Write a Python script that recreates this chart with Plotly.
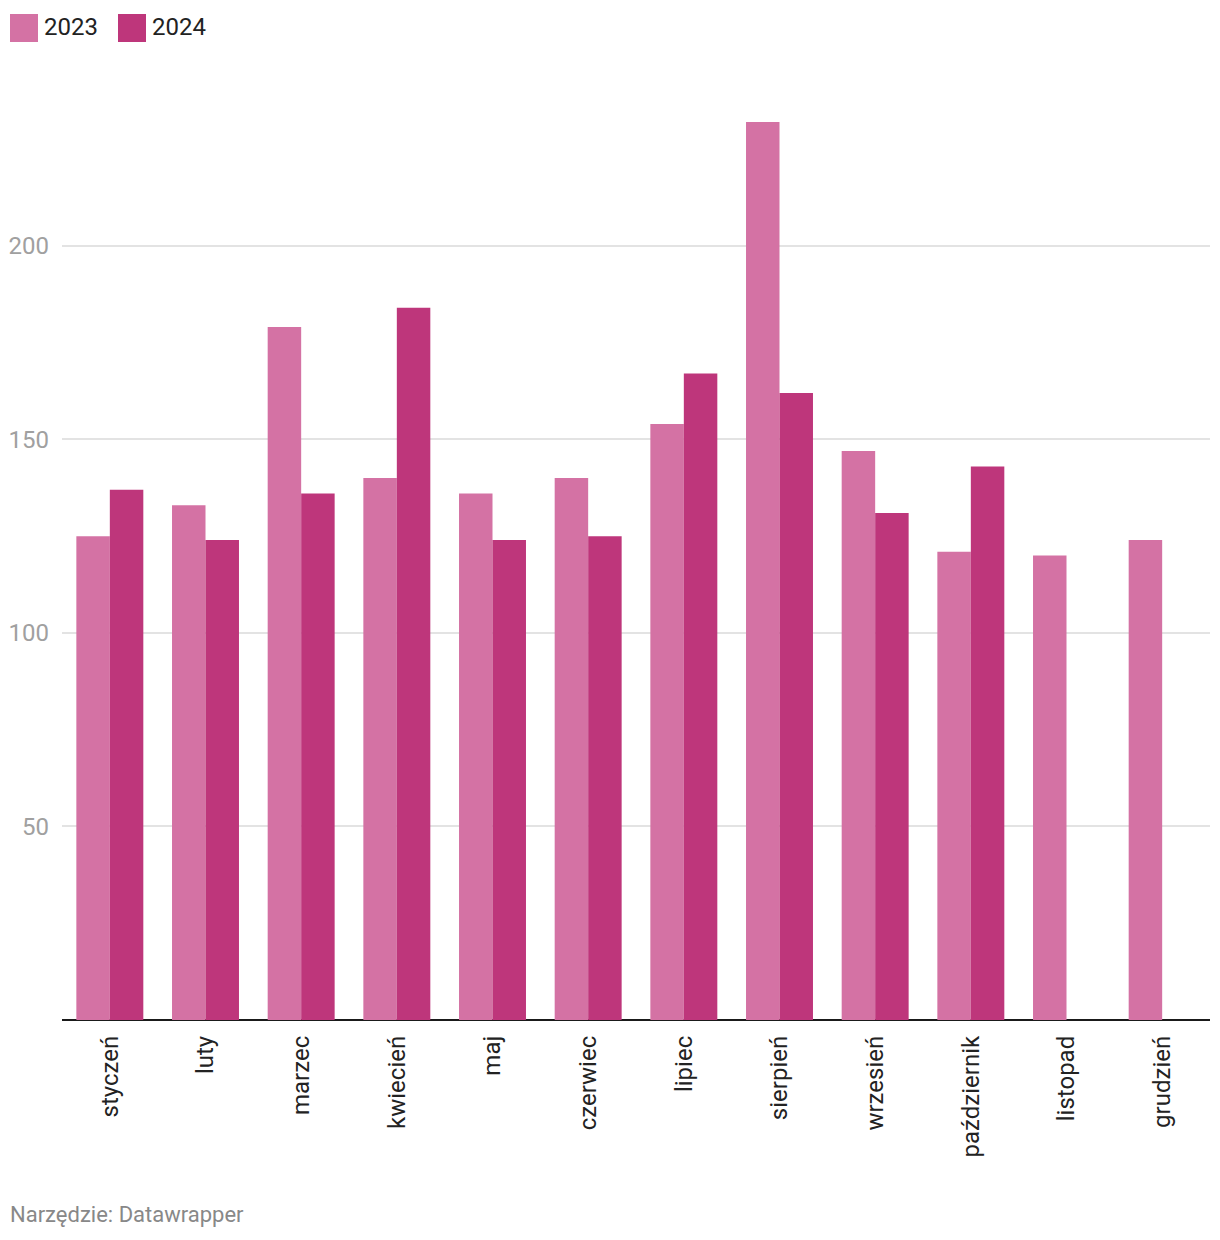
import plotly.graph_objects as go

months = ["styczeń", "luty", "marzec", "kwiecień", "maj", "czerwiec",
          "lipiec", "sierpień", "wrzesień", "październik", "listopad", "grudzień"]
values_2023 = [125, 133, 179, 140, 136, 140, 154, 232, 147, 121, 120, 124]
values_2024 = [137, 124, 136, 184, 124, 125, 167, 162, 131, 143, None, None]
y_ticks = [50, 100, 150, 200]

c2023 = "#d472a4"
c2024 = "#be367b"

fig = go.Figure()
fig.add_trace(go.Bar(x=months, y=values_2023, name="2023", marker=dict(color=c2023, line=dict(width=0))))
fig.add_trace(go.Bar(x=months, y=values_2024, name="2024", marker=dict(color=c2024, line=dict(width=0))))

font = "Roboto, sans-serif"
PL, PB, PW, PH = 62, 1020, 1148, 929


def px(xp):
    return (xp - PL) / PW


def py(yp):
    return (PB - yp) / PH


fig.update_layout(
    width=1220, height=1240,
    margin=dict(l=62, r=10, t=91, b=220),
    paper_bgcolor="white", plot_bgcolor="white",
    barmode="group", bargap=0.3, bargroupgap=0,
    showlegend=False,
    font=dict(family=font, size=20, color="#333333"),
    xaxis=dict(
        type="category", tickangle=-90, showgrid=False, ticks="",
        tickfont=dict(family=font, size=24, color="#222222"),
        ticklabelstandoff=10,
        showline=False, zeroline=False,
    ),
    yaxis=dict(
        range=[0, 240], tickvals=y_ticks, ticktext=[str(v) for v in y_ticks],
        showgrid=True, gridcolor="#e3e3e3", gridwidth=1.5,
        tickfont=dict(family=font, size=24, color="#a0a0a0"),
        ticks="", ticklabelstandoff=12,
        zeroline=True, zerolinecolor="#1a1a1a", zerolinewidth=2,
        showline=False, fixedrange=True,
    ),
)

# Legend drawn manually
legend_items = [("2023", c2023, 10), ("2024", c2024, 118)]
for label, color, x0 in legend_items:
    fig.add_shape(type="rect", xref="paper", yref="paper",
                  x0=px(x0), x1=px(x0 + 28),
                  y0=py(42), y1=py(14),
                  fillcolor=color, line=dict(width=0))
    fig.add_annotation(text=label, xref="paper", yref="paper",
                       x=px(x0 + 32), y=py(27),
                       xanchor="left", yanchor="middle", showarrow=False,
                       font=dict(family=font, size=24, color="#222222"))

fig.add_annotation(text="Narzędzie: Datawrapper", xref="paper", yref="paper",
                   x=px(8), y=py(1214),
                   xanchor="left", yanchor="middle", showarrow=False,
                   font=dict(family=font, size=22, color="#888888"))

fig.write_html("out.html")
